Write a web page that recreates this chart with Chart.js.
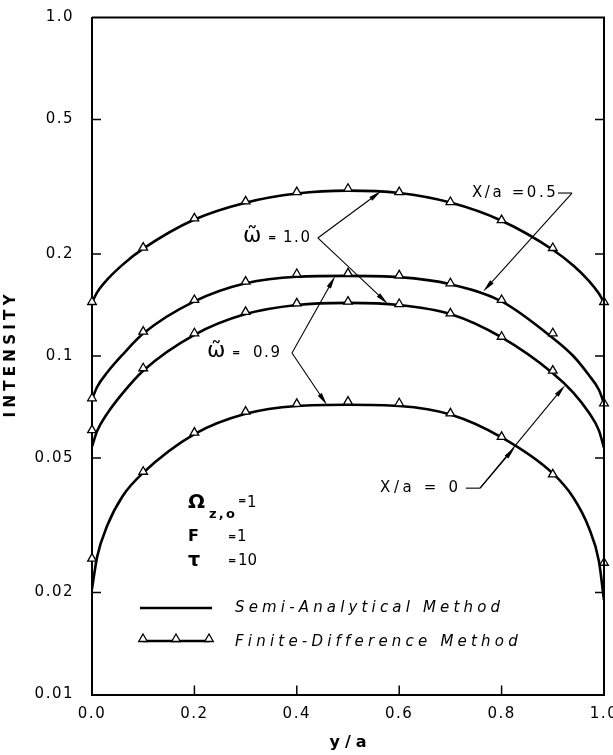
<!DOCTYPE html>
<html>
<head>
<meta charset="utf-8">
<script src="https://cdn.jsdelivr.net/npm/chart.js@4.4.1/dist/chart.umd.min.js"></script>
<style>
  html, body { margin: 0; padding: 0; background: #fff; }
  #wrap { width: 613px; height: 755px; }
</style>
</head>
<body>
<div id="wrap"><canvas id="myChart" width="613" height="755"></canvas></div>
<script>
// finite-difference points (triangles), y/a positions
var fdX = [0.0, 0.1, 0.2, 0.3, 0.4, 0.5, 0.6, 0.7, 0.8, 0.9, 1.0];
var fdHalfW10 = [0.1444, 0.209, 0.255, 0.2864, 0.305, 0.312, 0.305, 0.285, 0.252, 0.2085, 0.1444];   // X/a=0.5, w=1.0
var fdHalfW09 = [0.075, 0.118, 0.1464, 0.1658, 0.1747, 0.1755, 0.173, 0.164, 0.1464, 0.1167, 0.0725]; // X/a=0.5, w=0.9
var fdZeroW10 = [0.0604, 0.092, 0.1167, 0.135, 0.143, 0.1447, 0.1424, 0.1337, 0.114, 0.0905, null];  // X/a=0, w=1.0
var fdZeroW09 = [0.0252, 0.0455, 0.0594, 0.0685, 0.0722, 0.0733, 0.0725, 0.0677, 0.0577, 0.0447, 0.0245]; // X/a=0, w=0.9

// semi-analytical curves (solid lines)
var saX = [0, 0.01, 0.03, 0.06, 0.1, 0.2, 0.3, 0.4, 0.5, 0.6, 0.7, 0.8, 0.9, 0.94, 0.97, 0.99, 1.0];
var saHalfW10 = [0.144, 0.1542, 0.1683, 0.1862, 0.2075, 0.253, 0.2838, 0.302, 0.308, 0.303, 0.284, 0.251, 0.206, 0.185, 0.167, 0.153, 0.144];
var saHalfW09 = [0.0745, 0.081, 0.0895, 0.101, 0.1165, 0.145, 0.164, 0.1715, 0.1725, 0.171, 0.163, 0.145, 0.113, 0.100, 0.088, 0.0795, 0.0725];
var saZeroW10 = [0.054, 0.060, 0.0677, 0.0777, 0.0905, 0.1155, 0.133, 0.1415, 0.1435, 0.1415, 0.133, 0.1135, 0.089, 0.078, 0.0682, 0.0603, 0.0535];
var saZeroW09 = [0.0205, 0.0255, 0.0316, 0.0386, 0.0452, 0.0588, 0.0675, 0.0712, 0.0718, 0.0712, 0.0672, 0.0575, 0.045, 0.0382, 0.0312, 0.0248, 0.019];

var yTickValues = [0.01, 0.02, 0.05, 0.1, 0.2, 0.5, 1.0];
var yTickLabels = ["0.01", "0.02", "0.05", "0.1", "0.2", "0.5", "1.0"];
var xTickValues = [0, 0.2, 0.4, 0.6, 0.8, 1.0];
var xTickLabels = ["0.0", "0.2", "0.4", "0.6", "0.8", "1.0"];
var legendLabels = ["Semi-Analytical Method", "Finite-Difference Method"];

var FONT = "'DejaVu Sans', sans-serif";

function toPoints(xs, ys) {
    var pts = [];
    for (var i = 0; i < xs.length; i++) {
        if (ys[i] !== null) pts.push({ x: xs[i], y: ys[i] });
    }
    return pts;
}

function fdSet(label, ys) {
    return {
        label: label, data: toPoints(fdX, ys), showLine: false, clip: false,
        pointStyle: "triangle", pointRadius: 5, pointBackgroundColor: "#fff",
        pointBorderColor: "#000", pointBorderWidth: 1.3
    };
}

function saSet(label, ys) {
    return {
        label: label, data: toPoints(saX, ys), showLine: true, pointRadius: 0,
        borderColor: "#000", borderWidth: 2.6, cubicInterpolationMode: "monotone", fill: false
    };
}

// draw text stretched to the width of the original lettering
function spacedText(c, text, x, y, font, width, align) {
    c.save();
    c.font = font;
    c.letterSpacing = "0px";
    var n = Array.from(text).length;
    var sp = n > 1 ? (width - c.measureText(text).width) / (n - 1) : 0;
    c.letterSpacing = sp + "px";
    c.textBaseline = "middle";
    c.textAlign = "left";
    c.fillStyle = "#000";
    c.fillText(text, align === "center" ? x - width / 2 : x, y);
    c.restore();
}

function arrow(c, x0, y0, x1, y1) {
    var a = Math.atan2(y1 - y0, x1 - x0), len = 13, half = 2.4;
    c.beginPath();
    c.moveTo(x0, y0);
    c.lineTo(x1 - Math.cos(a) * len * 0.7, y1 - Math.sin(a) * len * 0.7);
    c.stroke();
    c.beginPath();
    c.moveTo(x1, y1);
    c.lineTo(x1 - Math.cos(a) * len + Math.sin(a) * half, y1 - Math.sin(a) * len - Math.cos(a) * half);
    c.lineTo(x1 - Math.cos(a) * len - Math.sin(a) * half, y1 - Math.sin(a) * len + Math.cos(a) * half);
    c.closePath();
    c.fill();
}

function triangle(c, x, y, r) {
    c.beginPath();
    c.moveTo(x, y - r);
    c.lineTo(x + r * 0.866, y + r * 0.5);
    c.lineTo(x - r * 0.866, y + r * 0.5);
    c.closePath();
    c.fill();
    c.stroke();
}

var sketchPlugin = {
    id: "sketch",
    beforeDraw: function (chart) {
        chart.ctx.letterSpacing = "1.5px";
    },
    afterDraw: function (chart) {
        var c = chart.ctx, a = chart.chartArea;
        var xs = chart.scales.x, ys = chart.scales.y;
        function px(v) { return xs.getPixelForValue(v); }
        function py(v) { return ys.getPixelForValue(v); }

        c.save();
        c.letterSpacing = "0px";
        c.strokeStyle = "#000";
        c.fillStyle = "#000";

        //frame top and right
        c.lineWidth = 2;
        c.beginPath();
        c.moveTo(a.left, a.top);
        c.lineTo(a.right, a.top);
        c.lineTo(a.right, a.bottom);
        c.stroke();

        //inward ticks
        c.lineWidth = 1.5;
        yTickValues.forEach(function (v) {
            if (v <= 0.01 || v >= 1) return;
            var y = py(v);
            c.beginPath();
            c.moveTo(a.left, y); c.lineTo(a.left + 9, y);
            c.moveTo(a.right, y); c.lineTo(a.right - 9, y);
            c.stroke();
        });
        xTickValues.forEach(function (v) {
            if (v <= 0 || v >= 1) return;
            var x = px(v);
            c.beginPath();
            c.moveTo(x, a.bottom); c.lineTo(x, a.bottom - 9);
            c.stroke();
        });

        //arrows
        c.lineWidth = 1.1;
        var v1 = [px(0.441), py(0.2232)];
        arrow(c, v1[0], v1[1], px(0.565), py(0.307));
        arrow(c, v1[0], v1[1], px(0.578), py(0.1425));
        var v2 = [px(0.3906), py(0.1021)];
        arrow(c, v2[0], v2[1], px(0.475), py(0.1722));
        arrow(c, v2[0], v2[1], px(0.459), py(0.0716));
        c.beginPath();
        c.moveTo(px(0.910), py(0.303));
        c.lineTo(px(0.9375), py(0.303));
        c.stroke();
        arrow(c, px(0.9375), py(0.303), px(0.764), py(0.155));
        c.beginPath();
        c.moveTo(px(0.730), py(0.0407));
        c.lineTo(px(0.758), py(0.0407));
        c.stroke();
        arrow(c, px(0.758), py(0.0407), px(0.826), py(0.0538));
        arrow(c, px(0.758), py(0.0407), px(0.924), py(0.082));

        //annotation text
        var plain = "15px " + FONT;
        var small = "bold 10px " + FONT;
        c.font = "22px " + FONT;
        c.textBaseline = "middle";
        c.fillText("\u03C9\u0303", 243, py(0.2232) - 2);
        spacedText(c, "=", 268, py(0.2232), small, 6);
        spacedText(c, "1.0", 283, py(0.2232), plain, 27);
        c.font = "22px " + FONT;
        c.fillText("\u03C9\u0303", 207, py(0.1021) - 2);
        spacedText(c, "=", 232, py(0.1021), small, 6);
        spacedText(c, "0.9", 253, py(0.1021), plain, 27);
        spacedText(c, "X/a =0.5", px(0.742), py(0.303), plain, 84);
        spacedText(c, "X/a = 0", px(0.5625), py(0.0407), plain, 78);

        //parameters
        c.font = "bold 20px " + FONT;
        c.fillText("\u03A9", 188, 503);
        spacedText(c, "z,o", 209, 515, "bold 13px " + FONT, 26);
        spacedText(c, "=", 238, 501, small, 6);
        spacedText(c, "1", 247, 503, plain, 4);
        c.font = "bold 16px " + FONT;
        c.fillText("F", 188, 537);
        spacedText(c, "=", 228, 537, small, 6);
        spacedText(c, "1", 237, 537, plain, 4);
        c.font = "bold 19px " + FONT;
        c.fillText("\u03C4", 188, 561);
        spacedText(c, "=", 228, 561, small, 6);
        spacedText(c, "10", 238, 561, plain, 19);

        //legend
        c.lineWidth = 2.6;
        c.beginPath();
        c.moveTo(140, 608); c.lineTo(212, 608);
        c.moveTo(143, 641); c.lineTo(209, 641);
        c.stroke();
        c.lineWidth = 1.3;
        c.fillStyle = "#fff";
        triangle(c, 143, 639, 5);
        triangle(c, 176, 639, 5);
        triangle(c, 209, 639, 5);
        c.fillStyle = "#000";
        var ital = "oblique 15px " + FONT;
        spacedText(c, legendLabels[0], 235, 608, ital, 265);
        spacedText(c, legendLabels[1], 235, 642, ital, 283);

        //axis titles
        spacedText(c, "y/a", (a.left + a.right) / 2, 743, "bold 16px " + FONT, 37, "center");
        c.save();
        c.translate(11, (a.top + a.bottom) / 2);
        c.rotate(-Math.PI / 2);
        spacedText(c, "INTENSITY", 0, 0, "bold 15px " + FONT, 123, "center");
        c.restore();

        c.restore();
    }
};

var myChart = document.getElementById("myChart").getContext("2d");
var intensityChart = new Chart(myChart, {
    type: "scatter",
    data: {
        datasets: [
            fdSet("Finite-Difference, X/a=0.5, w=1.0", fdHalfW10),
            fdSet("Finite-Difference, X/a=0.5, w=0.9", fdHalfW09),
            fdSet("Finite-Difference, X/a=0, w=1.0", fdZeroW10),
            fdSet("Finite-Difference, X/a=0, w=0.9", fdZeroW09),
            saSet("Semi-Analytical, X/a=0.5, w=1.0", saHalfW10),
            saSet("Semi-Analytical, X/a=0.5, w=0.9", saHalfW09),
            saSet("Semi-Analytical, X/a=0, w=1.0", saZeroW10),
            saSet("Semi-Analytical, X/a=0, w=0.9", saZeroW09)
        ]
    },
    options: {
        responsive: false,
        animation: false,
        devicePixelRatio: 1,
        layout: { padding: { top: 17.5, right: 9, bottom: 0, left: 0 } },
        plugins: {
            legend: { display: false },
            tooltip: { enabled: false }
        },
        scales: {
            x: {
                type: "linear",
                position: "bottom",
                min: 0,
                max: 1,
                afterBuildTicks: function (s) {
                    s.ticks = xTickValues.map(function (v) { return { value: v }; });
                },
                afterFit: function (s) {
                    s.height = 60.5;
                    s.paddingLeft = 0;
                    s.paddingRight = 0;
                },
                grid: { display: false, drawTicks: false },
                border: { display: true, color: "#000", width: 2 },
                ticks: {
                    autoSkip: false, maxRotation: 0, padding: 11, color: "#000",
                    font: { family: FONT, size: 15 },
                    callback: function (v, i) { return xTickLabels[i]; }
                }
            },
            y: {
                type: "logarithmic",
                position: "left",
                min: 0.01,
                max: 1,
                afterBuildTicks: function (s) {
                    s.ticks = yTickValues.map(function (v) { return { value: v }; });
                },
                afterFit: function (s) {
                    s.width = 92;
                    s.paddingTop = 0;
                    s.paddingBottom = 0;
                },
                grid: { display: false, drawTicks: false },
                border: { display: true, color: "#000", width: 2 },
                ticks: {
                    autoSkip: false, padding: 18, color: "#000",
                    font: { family: FONT, size: 15 },
                    callback: function (v, i) { return yTickLabels[i]; }
                }
            }
        }
    },
    plugins: [sketchPlugin]
});
</script>
</body>
</html>
